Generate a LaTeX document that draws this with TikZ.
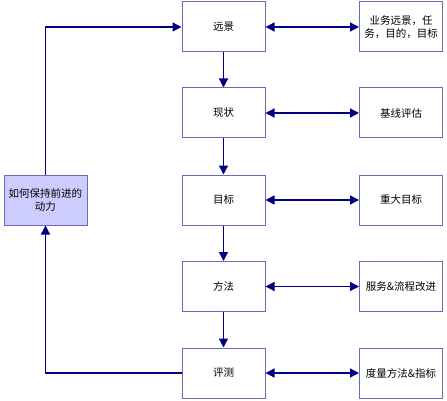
\documentclass[tikz,border=0pt]{standalone}
\usepackage{fontspec}
\setmainfont{Noto Sans CJK SC}
\usetikzlibrary{arrows.meta}
\definecolor{boxline}{HTML}{6A6AB8}
\definecolor{arrowc}{HTML}{000080}
\definecolor{leftfill}{HTML}{CCCCFF}
\begin{document}
\begin{tikzpicture}[x=1pt,y=-1pt,
  box/.style={draw=boxline,line width=1pt,fill=white,minimum width=83pt,minimum height=50pt,inner sep=1pt,font=\fontsize{10.5}{13}\selectfont,align=center},
  conn/.style={draw=arrowc,line width=1.3pt},
  tip/.style={-{Triangle[length=9pt,width=9pt]}},
  tips/.style={{Triangle[length=9pt,width=9pt]}-{Triangle[length=9pt,width=9pt]}}]
\useasboundingbox (0,0) rectangle (447,401);
\node[box] (a) at (223.5,27) {远景};
\node[box] (b) at (223.5,113) {现状};
\node[box] (c) at (223.5,200) {目标};
\node[box] (d) at (223.5,286.5) {方法};
\node[box] (e) at (223.5,373) {评测};
\node[box] (ra) at (401,27) {业务远景，任\\务，目的，目标};
\node[box] (rb) at (401,113) {基线评估};
\node[box] (rc) at (401,200) {重大目标};
\node[box] (rd) at (401,286.5) {服务\&流程改进};
\node[box] (re) at (401,373) {度量方法\&指标};
\node[box,fill=leftfill] (l) at (45.5,200) {如何保持前进的\\动力};
\draw[conn,tip] (a) -- (b);
\draw[conn,tip] (b) -- (c);
\draw[conn,tip] (c) -- (d);
\draw[conn,tip] (d) -- (e);
\draw[conn,tips] (a) -- (ra);
\draw[conn,tips] (b) -- (rb);
\draw[conn,tips] (c) -- (rc);
\draw[conn,tips] (d) -- (rd);
\draw[conn,tips] (e) -- (re);
\draw[conn,tip] (l.north) |- (a.west);
\draw[conn,tip] (e.west) -| (l.south);
\end{tikzpicture}
\end{document}
